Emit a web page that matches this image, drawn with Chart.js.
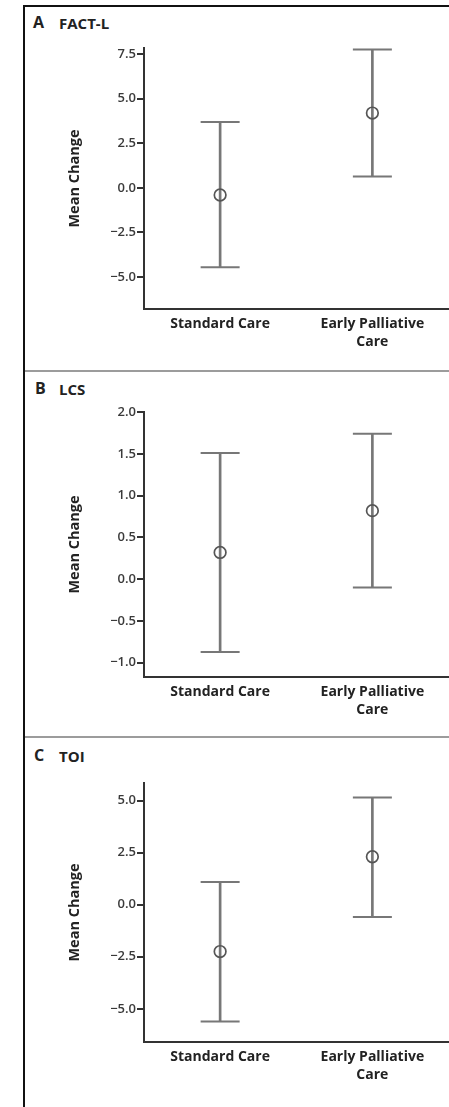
<!DOCTYPE html>
<html>
<head>
<meta charset="utf-8">
<script src="https://cdn.jsdelivr.net/npm/chart.js@4.4.0/dist/chart.umd.min.js"></script>
<style>
html, body { margin: 0; padding: 0; background: #fff; overflow: hidden; }
body { width: 449px; height: 1107px; position: relative; font-family: "Open Sans", sans-serif; }
.frameTop { position: absolute; left: 23px; top: 5px; width: 440px; height: 2px; background: #111; }
.frameLeft { position: absolute; left: 23px; top: 5px; width: 2px; height: 1110px; background: #111; }
.divider { position: absolute; left: 25px; width: 440px; height: 2px; background: #9c9c9c; }
.panelLabel { position: absolute; font-weight: 700; font-size: 15px; line-height: 15px; color: #222; white-space: nowrap; }
canvas { position: absolute; left: 26px; }
</style>
</head>
<body>
<div class="frameTop"></div>
<div class="frameLeft"></div>
<div class="divider" style="top:370px"></div>
<div class="divider" style="top:736px"></div>

<div class="panelLabel" style="left:33px; top:15px; font-size:16px">A</div>
<div class="panelLabel" style="left:59px; top:16px">FACT-L</div>
<div class="panelLabel" style="left:35px; top:381px; font-size:16px">B</div>
<div class="panelLabel" style="left:59px; top:382px">LCS</div>
<div class="panelLabel" style="left:34px; top:748px; font-size:16px">C</div>
<div class="panelLabel" style="left:59px; top:749px">TOI</div>

<canvas id="chartA" width="444" height="363" style="top:7px"></canvas>
<canvas id="chartB" width="444" height="364" style="top:372px"></canvas>
<canvas id="chartC" width="444" height="369" style="top:738px"></canvas>

<script>
// groups
const categories = [["Standard Care"], ["Early Palliative", "Care"]];

// A: FACT-L
const factMean = [-0.4, 4.2];
const factLow = [-4.46, 0.64];
const factHigh = [3.69, 7.77];
const factTicks = [-5.0, -2.5, 0.0, 2.5, 5.0, 7.5];
const factRange = [-6.8, 7.85];

// B: LCS
const lcsMean = [0.32, 0.82];
const lcsLow = [-0.87, -0.10];
const lcsHigh = [1.51, 1.74];
const lcsTicks = [-1.0, -0.5, 0.0, 0.5, 1.0, 1.5, 2.0];
const lcsRange = [-1.17, 2.0];

// C: TOI
const toiMean = [-2.25, 2.3];
const toiLow = [-5.61, -0.59];
const toiHigh = [1.09, 5.15];
const toiTicks = [-5.0, -2.5, 0.0, 2.5, 5.0];
const toiRange = [-6.59, 5.84];

function fmt(v) {
    const s = Math.abs(v).toFixed(1);
    return v < 0 ? '\u2212' + s : s;
}

function drawPanel(id, means, lows, highs, tickValues, range, padTop, xAxisHeight) {
    const ctx = document.getElementById(id).getContext('2d');
    new Chart(ctx, {
        type: 'bar',
        data: {
            labels: categories,
            datasets: [
                {
                    type: 'line',
                    data: means,
                    showLine: false,
                    pointStyle: 'circle',
                    pointRadius: 5.8,
                    pointBorderWidth: 1.7,
                    pointBorderColor: '#555',
                    pointBackgroundColor: 'rgba(0,0,0,0)',
                    clip: false,
                    order: 0
                },
                {
                    type: 'line',
                    data: highs,
                    showLine: false,
                    pointStyle: 'line',
                    pointRadius: 19.5,
                    pointBorderWidth: 2,
                    pointBorderColor: '#777',
                    clip: false,
                    order: 1
                },
                {
                    type: 'line',
                    data: lows,
                    showLine: false,
                    pointStyle: 'line',
                    pointRadius: 19.5,
                    pointBorderWidth: 2,
                    pointBorderColor: '#777',
                    clip: false,
                    order: 1
                },
                {
                    type: 'bar',
                    data: lows.map((l, i) => [l, highs[i]]),
                    barThickness: 2,
                    backgroundColor: '#777',
                    order: 2
                }
            ]
        },
        options: {
            responsive: false,
            animation: false,
            events: [],
            layout: { padding: { top: padTop, right: 10, left: 0, bottom: 0 } },
            plugins: {
                legend: { display: false },
                tooltip: { enabled: false }
            },
            scales: {
                x: {
                    grid: { display: false, drawTicks: false },
                    border: { display: true, color: '#333', width: 2 },
                    ticks: {
                        font: { family: 'Open Sans', size: 14, weight: 'bold', lineHeight: 1.3 },
                        color: '#222',
                        padding: 6,
                        maxRotation: 0,
                        autoSkip: false
                    },
                    afterFit: s => { s.height = xAxisHeight; }
                },
                y: {
                    min: range[0],
                    max: range[1],
                    grid: { display: true, drawOnChartArea: false, drawTicks: true, tickLength: 7, color: '#333', lineWidth: 2 },
                    border: { display: true, color: '#333', width: 2 },
                    ticks: {
                        font: { family: 'Open Sans', size: 13, weight: '600' },
                        color: '#3a3a3a',
                        padding: 1,
                        callback: v => fmt(v)
                    },
                    afterBuildTicks: s => { s.ticks = tickValues.map(v => ({ value: v })); },
                    title: {
                        display: true,
                        text: 'Mean Change',
                        font: { family: 'Open Sans', size: 14.5, weight: 'bold' },
                        color: '#222',
                        padding: { top: 40, bottom: 0 }
                    },
                    afterFit: s => { s.width = 118; }
                }
            }
        }
    });
}

drawPanel('chartA', factMean, factLow, factHigh, factTicks, factRange, 41, 61);
drawPanel('chartB', lcsMean, lcsLow, lcsHigh, lcsTicks, lcsRange, 40, 59);
drawPanel('chartC', toiMean, toiLow, toiHigh, toiTicks, toiRange, 45, 65);
</script>
</body>
</html>
